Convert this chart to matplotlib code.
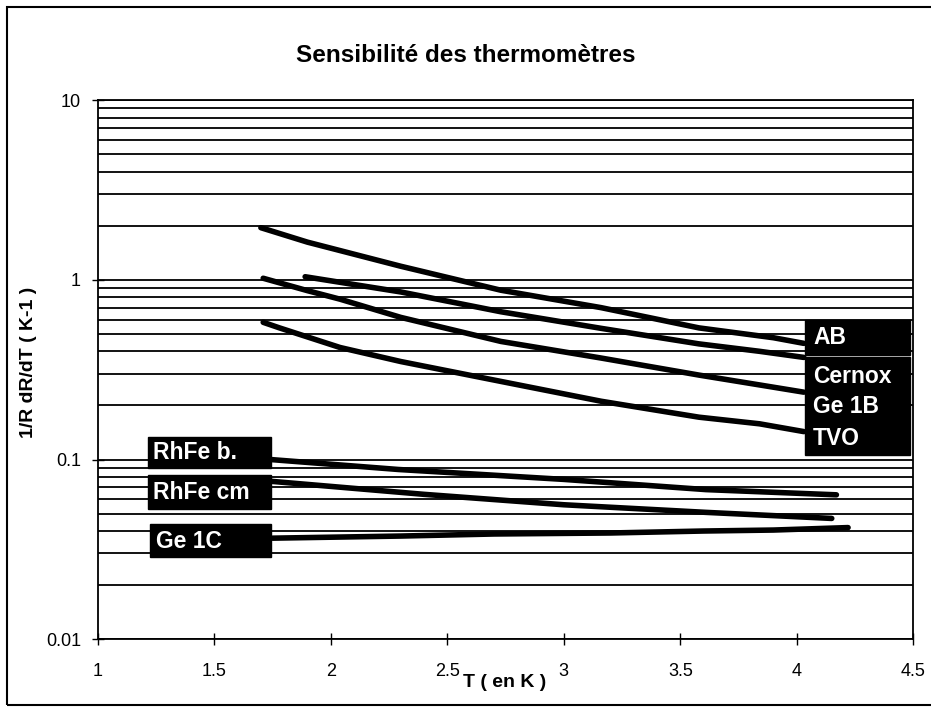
import numpy as np
import matplotlib
matplotlib.use('Agg')
import matplotlib.pyplot as plt
from matplotlib.patches import Rectangle
from matplotlib.ticker import LogLocator, FixedLocator, NullFormatter

plt.rcParams['font.family'] = ['Liberation Sans', 'DejaVu Sans']

# Data (T in K, 1/R dR/dT in K-1)
t_ab = [1.70, 1.90, 2.30, 2.73, 3.16, 3.58, 3.90, 4.03]
s_ab = [1.95, 1.62, 1.19, 0.875, 0.70, 0.54, 0.476, 0.443]

t_cernox = [1.89, 2.30, 2.73, 3.16, 3.58, 3.84, 4.03]
s_cernox = [1.04, 0.856, 0.664, 0.537, 0.44, 0.40, 0.37]

t_ge1b = [1.71, 1.90, 2.04, 2.30, 2.73, 3.16, 3.58, 3.84, 4.03]
s_ge1b = [1.02, 0.87, 0.78, 0.618, 0.454, 0.367, 0.295, 0.26, 0.237]

t_tvo = [1.71, 1.78, 2.04, 2.30, 2.73, 3.16, 3.58, 3.84, 4.03]
s_tvo = [0.58, 0.54, 0.42, 0.351, 0.272, 0.211, 0.172, 0.158, 0.143]

t_rhfe_b = [1.74, 2.29, 3.00, 3.61, 4.17]
s_rhfe_b = [0.100, 0.088, 0.0775, 0.068, 0.0636]

t_rhfe_cm = [1.74, 2.40, 3.00, 3.61, 4.15]
s_rhfe_cm = [0.0757, 0.064, 0.056, 0.0508, 0.047]

t_ge1c = [1.75, 2.30, 2.70, 3.20, 3.60, 3.90, 4.22]
s_ge1c = [0.0365, 0.0375, 0.0385, 0.039, 0.040, 0.0405, 0.0418]

series = [(t_ab, s_ab), (t_cernox, s_cernox), (t_ge1b, s_ge1b), (t_tvo, s_tvo),
          (t_rhfe_b, s_rhfe_b), (t_rhfe_cm, s_rhfe_cm), (t_ge1c, s_ge1c)]

x_ticks = [1, 1.5, 2, 2.5, 3, 3.5, 4, 4.5]
x_tick_labels = ['1', '1.5', '2', '2.5', '3', '3.5', '4', '4.5']
y_ticks = [0.01, 0.1, 1, 10]
y_tick_labels = ['0.01', '0.1', '1', '10']

fig = plt.figure(figsize=(9.31, 7.15), dpi=100)
ax = fig.add_axes([0.105, 0.106, 0.876, 0.754])

# outer frame around the whole chart (right edge falls outside the image)
fig.patches.append(Rectangle((0.007, 0.014), 1.1, 0.976, transform=fig.transFigure,
                             fill=False, edgecolor='black', linewidth=1.5))

ax.set_yscale('log')
ax.set_xlim(1, 4.5)
ax.set_ylim(0.01, 10)

# horizontal gridlines at every major and minor tick
ax.yaxis.set_major_locator(LogLocator(base=10))
ax.yaxis.set_minor_locator(LogLocator(base=10, subs=np.arange(2, 10)))
ax.yaxis.set_minor_formatter(NullFormatter())
ax.grid(True, which='both', axis='y', color='black', linewidth=1.3)
ax.set_yticks(y_ticks)
ax.set_yticklabels(y_tick_labels, fontsize=13)
ax.tick_params(axis='y', which='minor', length=0)
ax.tick_params(axis='y', which='major', direction='inout', length=8, width=1, pad=8)

ax.xaxis.set_major_locator(FixedLocator(x_ticks))
ax.set_xticklabels(x_tick_labels, fontsize=13)
ax.tick_params(axis='x', which='major', direction='inout', length=8, width=1, pad=13)

for sp in ax.spines.values():
    sp.set_linewidth(1.3)
    sp.set_color('black')

for t, s in series:
    ax.plot(t, s, color='black', linewidth=4, solid_capstyle='round')

# black label boxes (axes fraction)
boxes = [(0.8675, 0.527, 0.129, 0.065),
         (0.8675, 0.341, 0.129, 0.182),
         (0.061, 0.317, 0.151, 0.059),
         (0.061, 0.241, 0.151, 0.063),
         (0.064, 0.152, 0.149, 0.061)]
for bx, by, bw, bh in boxes:
    ax.add_patch(Rectangle((bx, by), bw, bh, transform=ax.transAxes,
                           facecolor='black', edgecolor='black', zorder=5))

lab = dict(color='white', fontsize=16.5, fontweight='bold', va='center', ha='left',
           transform=ax.transAxes, zorder=6)
ax.text(0.877, 0.559, 'AB', **lab)
ax.text(0.877, 0.487, 'Cernox', **lab)
ax.text(0.877, 0.431, 'Ge 1B', **lab)
ax.text(0.877, 0.372, 'TVO', **lab)
ax.text(0.068, 0.346, 'RhFe b.', **lab)
ax.text(0.068, 0.272, 'RhFe cm', **lab)
ax.text(0.071, 0.182, 'Ge 1C', **lab)

fig.text(0.5, 0.923, 'Sensibilité des thermomètres', ha='center', va='center',
         fontsize=17.5, fontweight='bold')
ax.set_xlabel('T ( en K )', fontsize=14, fontweight='bold')
ax.xaxis.set_label_coords(0.499, -0.065)
ax.set_ylabel('1/R dR/dT ( K-1 )', fontsize=14, fontweight='bold')
ax.yaxis.set_label_coords(-0.075, 0.514)

fig.savefig('out.png', dpi=100)
